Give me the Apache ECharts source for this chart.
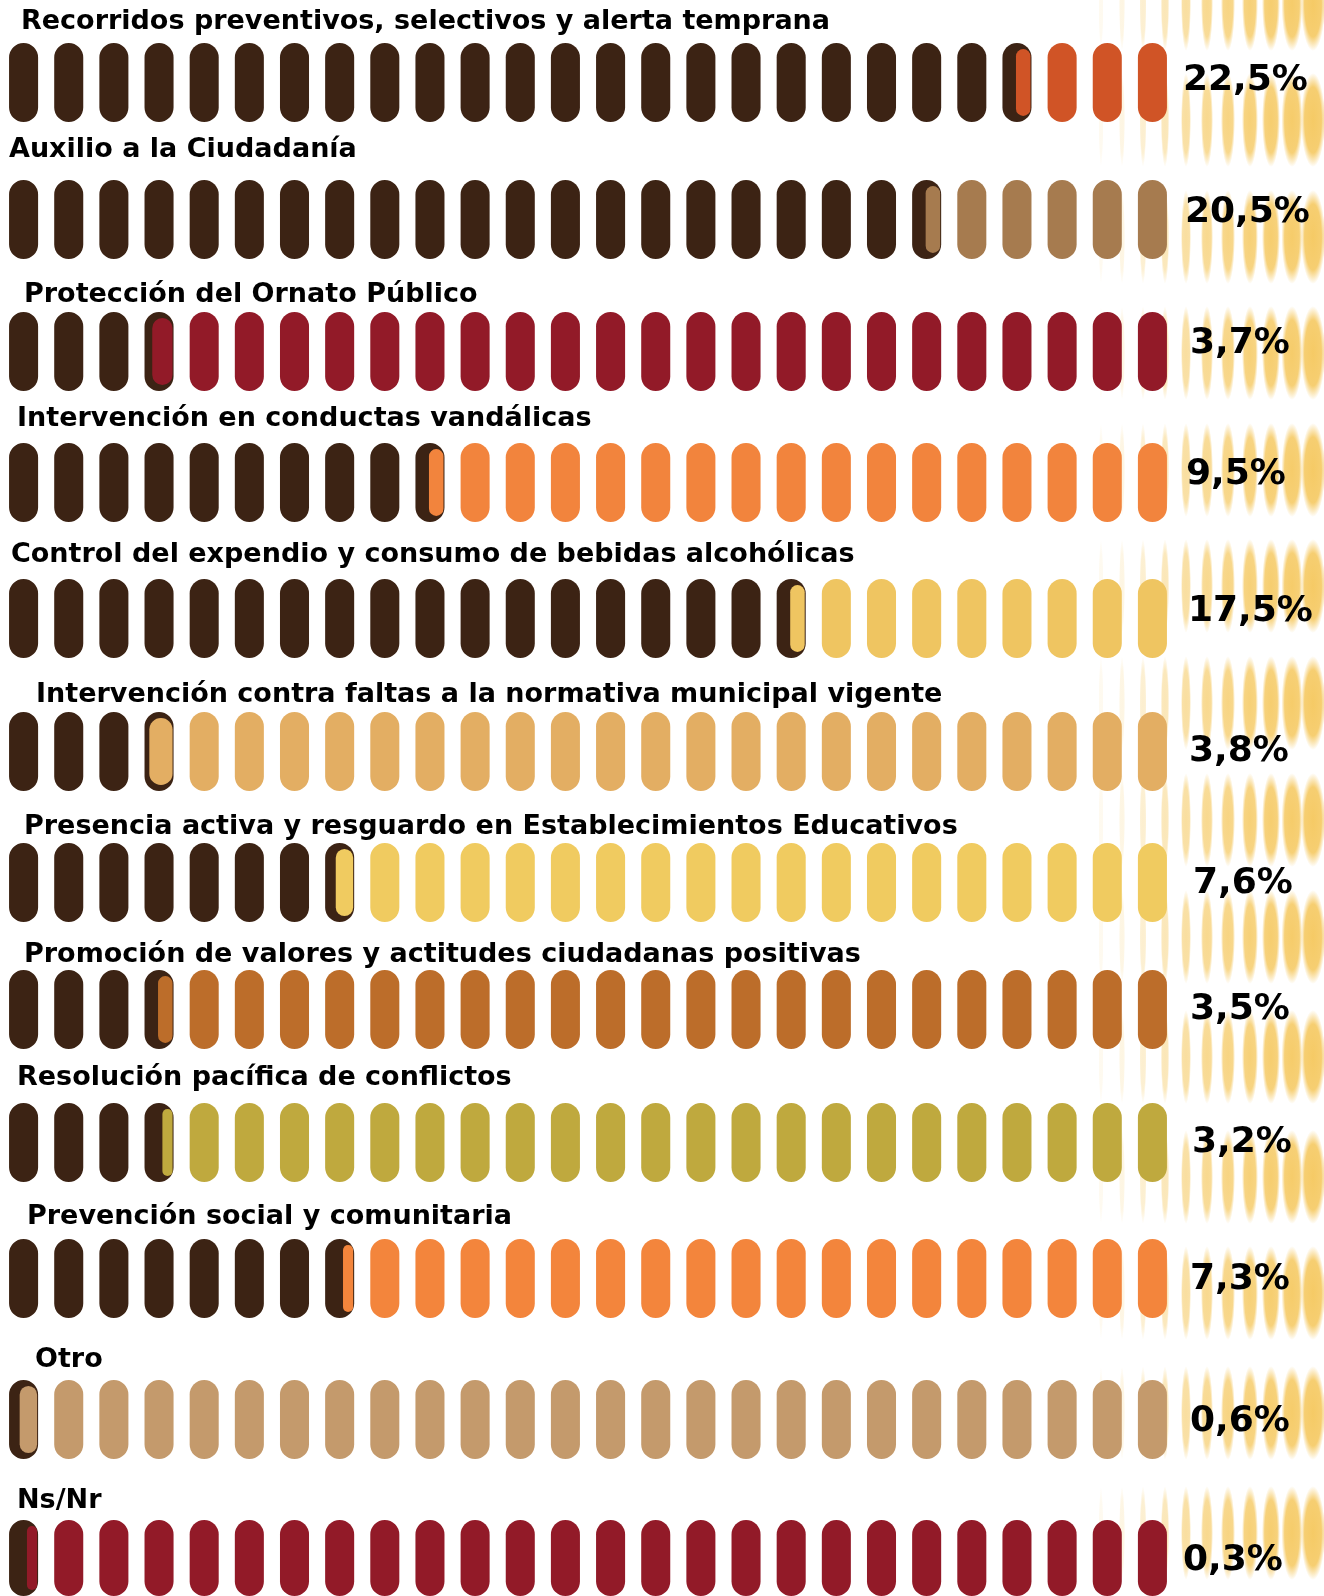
<!DOCTYPE html>
<html>
<head>
<meta charset="utf-8">
<script src="https://cdn.jsdelivr.net/npm/echarts@6/dist/echarts.min.js"></script>
<style>
html,body{margin:0;padding:0;background:#fff;}
#chart{width:1324px;height:1596px;}
</style>
</head>
<body>
<div id="chart"></div>
<script>
// ---- data ----
const categories = [
  'Recorridos preventivos, selectivos y alerta temprana',
  'Auxilio a la Ciudadanía',
  'Protección del Ornato Público',
  'Intervención en conductas vandálicas',
  'Control del expendio y consumo de bebidas alcohólicas',
  'Intervención contra faltas a la normativa municipal vigente',
  'Presencia activa y resguardo en Establecimientos Educativos',
  'Promoción de valores y actitudes ciudadanas positivas',
  'Resolución pacífica de conflictos',
  'Prevención social y comunitaria',
  'Otro',
  'Ns/Nr'
];
const values = [22.5, 20.5, 3.7, 9.5, 17.5, 3.8, 7.6, 3.5, 3.2, 7.3, 0.6, 0.3];
// one pill = 1 %, 26 pills per row
const pillTicks = ['1','2','3','4','5','6','7','8','9','10','11','12','13','14','15','16','17','18','19','20','21','22','23','24','25','26'];

// ---- styles / layout ----
const filledColor = '#3C2314';
const rowColors = ['#D05426','#A67B4F','#921A28','#F2843D','#EFC561','#E3AE63',
                   '#F0CB60','#BC6D2A','#BFA93E','#F3853C','#C49A6C','#921A28'];
const rowTops = [43, 180, 312, 443, 579, 712, 843, 970, 1103, 1239, 1380, 1520];
const rowHeight = 79;
const titleX = [21, 9, 24, 17, 11, 36, 24, 24, 17, 27, 35, 17];
const titleY = [22, 150, 295, 419, 555, 695, 827, 955, 1078, 1217, 1360, 1501];
const pctX = [1183, 1185, 1190, 1186, 1188, 1189, 1193, 1190, 1192, 1190, 1190, 1183];
const pctDy = [-2, -7, -8, -8, -7, 0, 1, 0, 0, 1, 2, 3];

const chart = echarts.init(document.getElementById('chart'), null, {renderer:'canvas'});

const grids = [], xAxes = [], yAxes = [], series = [];
categories.forEach((name, r) => {
  grids.push({left: 1, width: 1174, top: rowTops[r], height: rowHeight});
  xAxes.push({type:'category', gridIndex:r, data: pillTicks, show:false});
  yAxes.push({type:'category', gridIndex:r, data:[name], show:false});
  const v = values[r];
  series.push({
    type:'custom',
    name: name,
    xAxisIndex:r, yAxisIndex:r,
    z: 3,
    silent: true,
    data: pillTicks.map((t, i) => [i, 0]),
    renderItem: function (params, api) {
      const i = api.value(0);
      const c = api.coord([i, 0]);
      const band = api.size([1, 0])[0];
      const w = band * 0.643;
      const h = params.coordSys.height;
      const x = c[0] - w / 2;
      const y = params.coordSys.y;
      const full = Math.floor(v + 1e-9);
      const frac = v - full;
      const partial = (i === full && frac > 1e-6);
      const fill = (i < full || partial) ? filledColor : rowColors[r];
      const children = [{type:'rect', shape:{x:x, y:y, width:w, height:h, r:w/2}, style:{fill:fill}}];
      if (partial) {
        const iw = Math.max(frac, 0.35) * w;
        children.push({type:'rect', shape:{x:x + w - iw - 1, y:y + 6, width:iw, height:h - 12, r:iw/2},
                       style:{fill:rowColors[r]}});
      }
      if (i === pillTicks.length - 1) {
        children.push({type:'text', x: pctX[r], y: c[1] + pctDy[r],
          style:{text: v.toFixed(1).replace('.', ',') + '%', fill:'#000',
                 font:'bold 36px "DejaVu Sans"', align:'left', verticalAlign:'middle'}});
      }
      return {type:'group', children: children};
    }
  });
});

// decorative background: blurred golden ellipse columns on the right
const deco = [];
const decoCols = [
  {x:1101, rx:2.5, op:0.10}, {x:1122, rx:3.0, op:0.18}, {x:1143, rx:3.5, op:0.30},
  {x:1165, rx:4.2, op:0.45}, {x:1186, rx:5.0, op:0.60}, {x:1207, rx:6.0, op:0.70},
  {x:1228, rx:7.0, op:0.78}, {x:1250, rx:8.0, op:0.85}, {x:1271, rx:9.0, op:0.90},
  {x:1292, rx:10.5, op:0.93}, {x:1313, rx:12, op:0.96}, {x:1335, rx:13, op:0.96}
];
const decoRows = [4, 120, 237, 353, 470, 586, 703, 820, 937, 1057, 1177, 1293, 1413, 1533, 1652];
decoCols.forEach(col => {
  decoRows.forEach(cy => {
    const ry = 47;
    deco.push({
      type:'circle', x: col.x, y: cy, scaleX: col.rx / ry, silent: true, z: 0,
      shape:{cx:0, cy:0, r:ry},
      style:{opacity: col.op, fill:{type:'radial', x:0.5, y:0.5, r:0.5,
        colorStops:[{offset:0, color:'rgba(245,200,95,1)'},{offset:0.7, color:'rgba(245,200,95,0.92)'},{offset:1, color:'rgba(245,200,95,0)'}]}}
    });
  });
});

const titles = categories.map((name, r) => ({
  type:'text', x: titleX[r], y: titleY[r], z: 10, silent: true,
  style:{text:name, fill:'#000', font:'bold 27px "DejaVu Sans"', align:'left', verticalAlign:'middle'}
}));

chart.setOption({
  backgroundColor:'#ffffff',
  animation:false,
  grid: grids,
  xAxis: xAxes,
  yAxis: yAxes,
  series: series,
  graphic: [{type:'group', z:0, children: deco}, {type:'group', z:10, children: titles}]
});
</script>
</body>
</html>
